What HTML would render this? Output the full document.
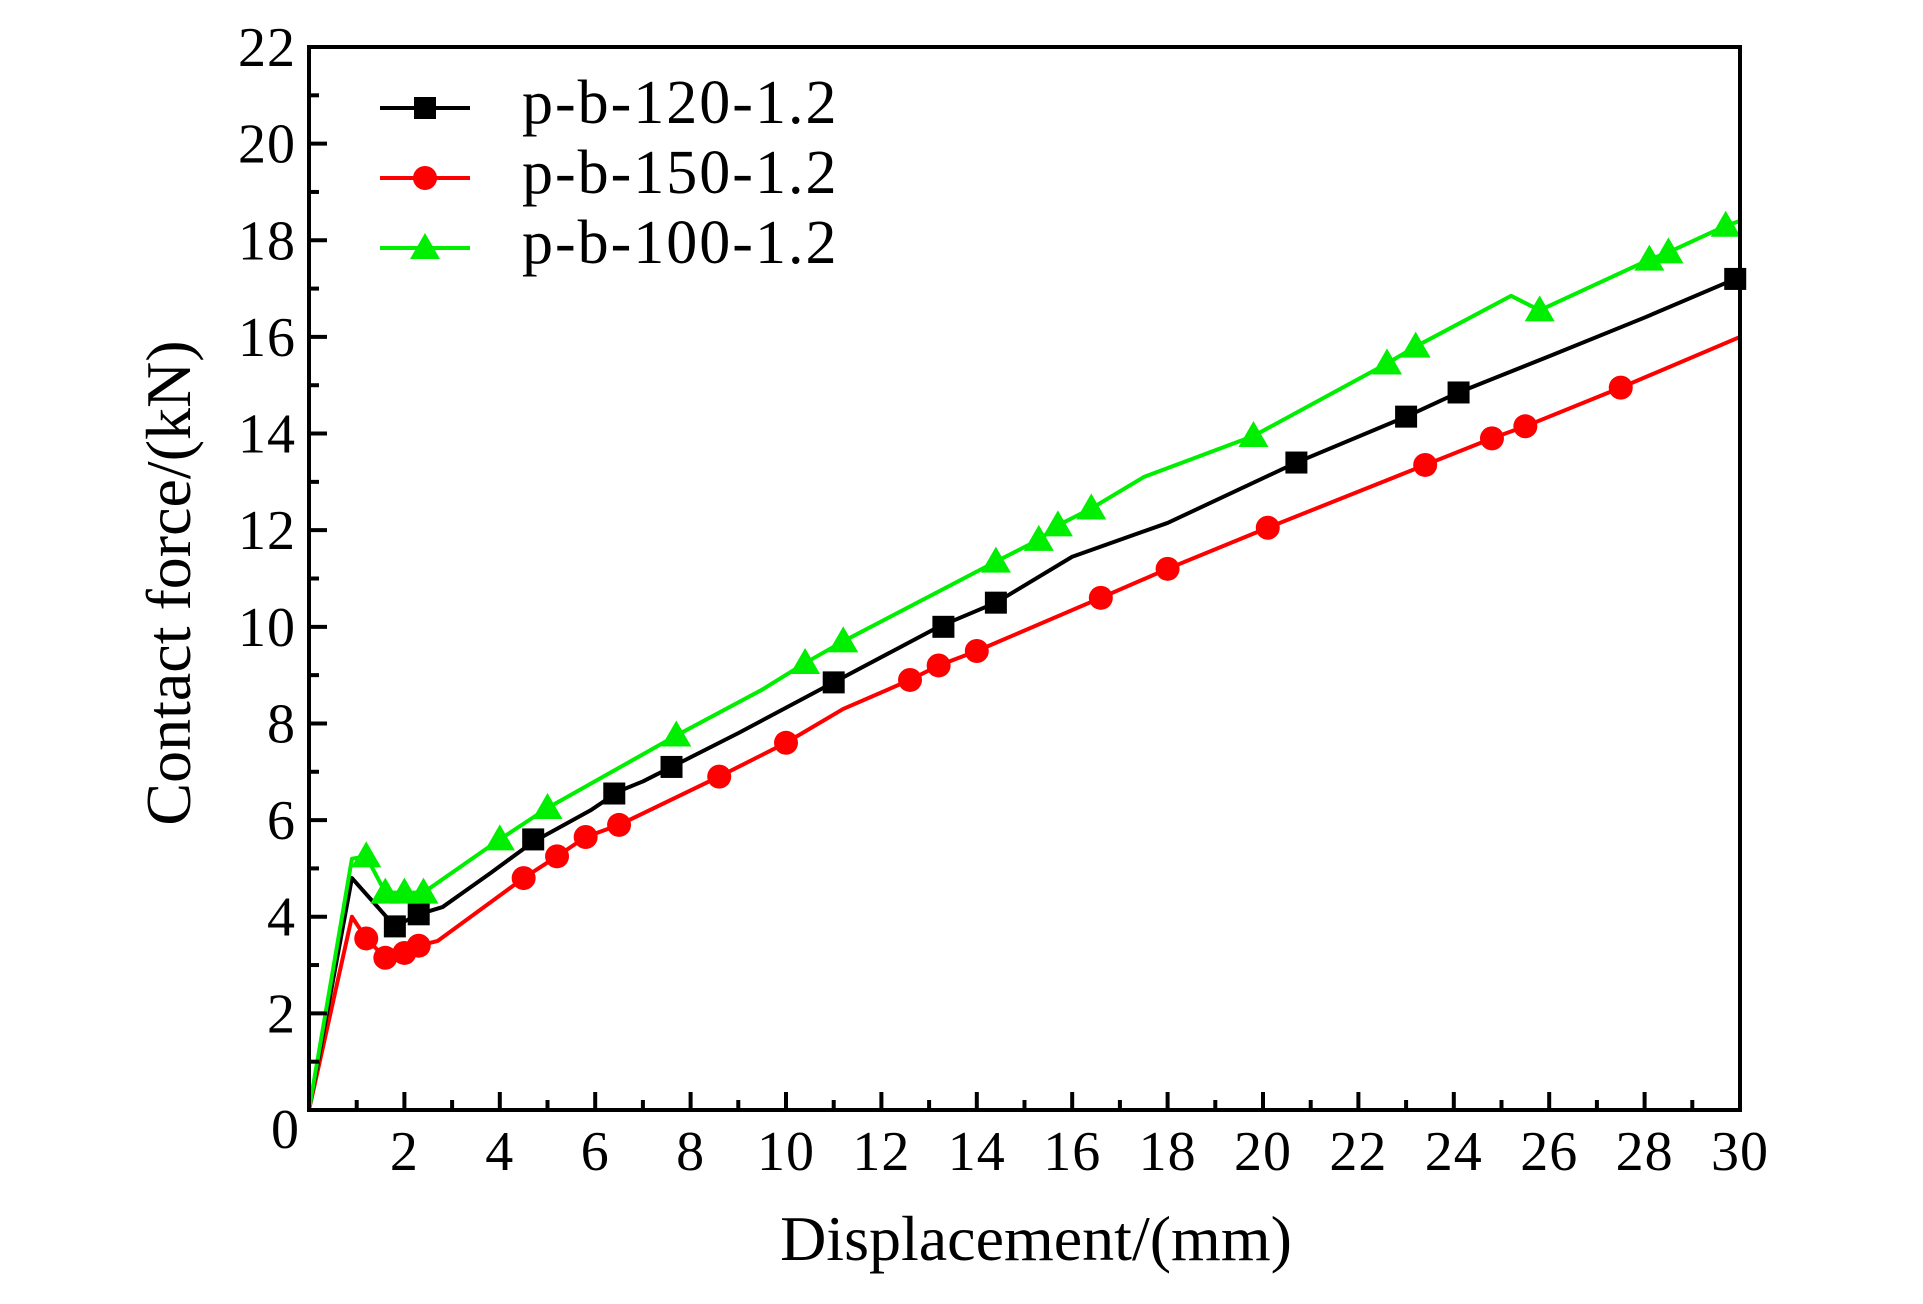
<!DOCTYPE html>
<html><head><meta charset="utf-8"><style>
html,body{margin:0;padding:0;background:#fff;}
svg text{font-family:"Liberation Serif",serif;fill:#000;}
</style></head><body>
<svg id="chart" width="1923" height="1299" viewBox="0 0 1923 1299" xmlns="http://www.w3.org/2000/svg">
<g id="grid"></g>
<g id="series"></g>
<g id="axes"></g>
<g id="legend"></g>
</svg>
<script>
const xTicks=[2,4,6,8,10,12,14,16,18,20,22,24,26,28,30];
const yTicks=[0,2,4,6,8,10,12,14,16,18,20,22];
const blackX=[0,0.9,1.8,2.3,2.8,3.8,4.7,5.9,6.5,7.0,7.6,9,11,13.2,14.4,16,18,20.7,23,24.1,26,28,29.9];
const blackY=[0,4.8,3.8,4.05,4.2,4.9,5.55,6.2,6.6,6.8,7.1,7.8,8.85,10.0,10.5,11.45,12.15,13.4,14.35,14.85,15.6,16.4,17.2];
const blackMX=[1.8,2.3,4.7,6.4,7.6,11,13.3,14.4,20.7,23,24.1,29.9];
const blackMY=[3.8,4.05,5.6,6.55,7.1,8.85,10.0,10.5,13.4,14.35,14.85,17.2];
const redX=[0,0.9,1.2,1.6,2.0,2.3,2.7,4.5,5.2,5.8,6.5,8.6,10,11.2,12.6,13.2,14,16.6,18,20.1,23.4,24.8,25.5,27.5,30];
const redY=[0,4.0,3.55,3.15,3.25,3.4,3.5,4.8,5.25,5.65,5.9,6.9,7.6,8.3,8.9,9.2,9.5,10.6,11.2,12.05,13.35,13.9,14.15,14.95,16.0];
const redMX=[1.2,1.6,2.0,2.3,4.5,5.2,5.8,6.5,8.6,10,12.6,13.2,14,16.6,18,20.1,23.4,24.8,25.5,27.5];
const redMY=[3.55,3.15,3.25,3.4,4.8,5.25,5.65,5.9,6.9,7.6,8.9,9.2,9.5,10.6,11.2,12.05,13.35,13.9,14.15,14.95];
const greenX=[0,0.9,1.2,1.6,2.0,2.4,4.0,5.0,7.7,9.5,10.4,11.2,14.4,15.3,15.7,16.4,17.5,19.8,22.6,23.2,25.2,25.8,28.1,28.5,29.7,30];
const greenY=[0,5.2,5.25,4.5,4.5,4.5,5.6,6.25,7.75,8.7,9.25,9.7,11.35,11.8,12.1,12.45,13.1,13.95,15.45,15.8,16.85,16.55,17.6,17.75,18.3,18.4];
const greenMX=[1.2,1.6,2.0,2.4,4.0,5.0,7.7,10.4,11.2,14.4,15.3,15.7,16.4,19.8,22.6,23.2,25.8,28.1,28.5,29.7];
const greenMY=[5.25,4.5,4.5,4.5,5.6,6.25,7.75,9.25,9.7,11.35,11.8,12.1,12.45,13.95,15.45,15.8,16.55,17.6,17.75,18.3];

const L=309,R=1740,T=47,B=1110,XMAX=30,YMAX=22;
const sx=v=>L+v/XMAX*(R-L);
const sy=v=>B-v/YMAX*(B-T);
const NS='http://www.w3.org/2000/svg';
function mk(tag,attrs,parent){const e=document.createElementNS(NS,tag);for(const k in attrs)e.setAttribute(k,attrs[k]);parent.appendChild(e);return e;}
const axes=document.getElementById('axes'),ser=document.getElementById('series'),leg=document.getElementById('legend');

function marker(kind,cx,cy,color,parent){
  let e;
  if(kind==='sq'){e=mk('rect',{x:cx-11,y:cy-11,width:22,height:22,fill:color},parent);}
  else if(kind==='ci'){e=mk('circle',{cx:cx,cy:cy,r:12,fill:color},parent);}
  else {e=mk('polygon',{points:`${cx},${cy-15} ${cx+15},${cy+11} ${cx-15},${cy+11}`,fill:color},parent);}
  return e;
}
function series(name,xs,ys,mx,my,color,kind){
  const g=mk('g',{},ser);
  
  
  const p=mk('polyline',{points:xs.map((x,i)=>sx(x)+','+sy(ys[i])).join(' '),fill:'none',stroke:color,'stroke-width':4,'stroke-linejoin':'round'},g);
  
  
  mx.forEach((x,i)=>{const m=marker(kind,sx(x),sy(my[i]),color,g);
    
    });
}
series('p-b-150-1.2',redX,redY,redMX,redMY,'#ff0000','ci');
series('p-b-120-1.2',blackX,blackY,blackMX,blackMY,'#000000','sq');
series('p-b-100-1.2',greenX,greenY,greenMX,greenMY,'#00ee00','tr');

const fr=mk('rect',{x:L,y:T,width:R-L,height:B-T,fill:'none',stroke:'#000','stroke-width':4},axes);


for(let v=1;v<XMAX;v++){const major=v%2===0;mk('line',{x1:sx(v),x2:sx(v),y1:B,y2:B-(major?18:10),stroke:'#000','stroke-width':4},axes);}
for(let v=1;v<YMAX;v++){const major=v%2===0;mk('line',{x1:L,x2:L+(major?18:10),y1:sy(v),y2:sy(v),stroke:'#000','stroke-width':4},axes);}
xTicks.forEach(v=>{const t=mk('text',{x:sx(v),y:1170,'font-size':56,'text-anchor':'middle','letter-spacing':'1'},axes);t.textContent=v;
  
  });
yTicks.forEach(v=>{const t=mk('text',{x:v===0?300:296,y:v===0?sy(v)+38:sy(v)+19,'font-size':56,'text-anchor':'end','letter-spacing':'1'},axes);t.textContent=v;
  
  });
const xt=mk('text',{x:1036,y:1260,'font-size':64,'text-anchor':'middle'},axes);xt.textContent='Displacement/(mm)';


const yt=mk('text',{x:0,y:0,'font-size':64,'text-anchor':'middle',transform:'translate(190,583) rotate(-90)'},axes);yt.textContent='Contact force/(kN)';



const legItems=[['p-b-120-1.2','#000000','sq',108],['p-b-150-1.2','#ff0000','ci',178],['p-b-100-1.2','#00ee00','tr',248]];
legItems.forEach(it=>{
  const g=mk('g',{},leg);
  
  
  mk('line',{x1:380,x2:470,y1:it[3],y2:it[3],stroke:it[1],'stroke-width':4},g);
  marker(it[2],425,it[3],it[1],g);
  const t=mk('text',{x:522,y:it[3]+15,'font-size':62,'letter-spacing':'2'},g);t.textContent=it[0];
});
</script>
</body></html>
